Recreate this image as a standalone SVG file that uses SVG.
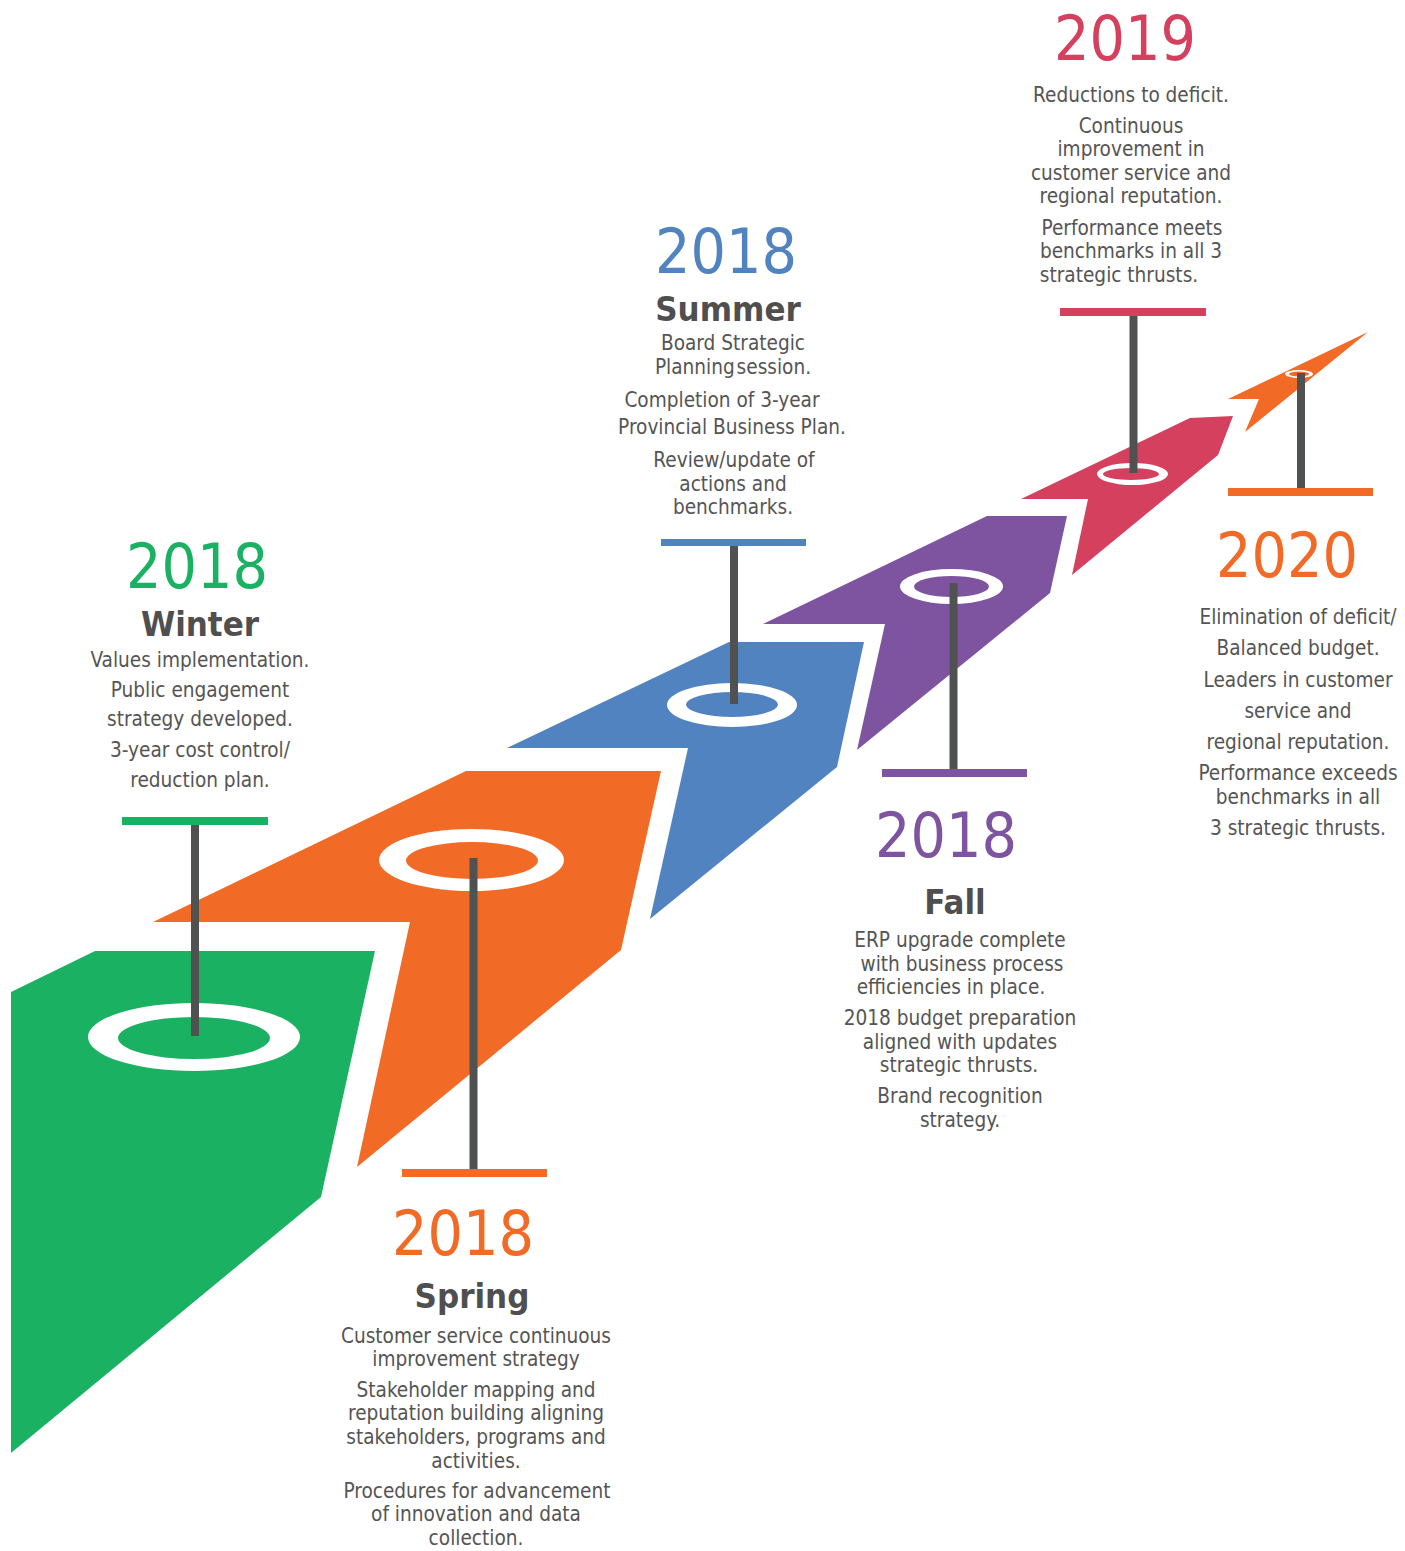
<svg xmlns="http://www.w3.org/2000/svg" width="1405" height="1551" viewBox="0 0 1405 1551">
  <style>
    text { font-family: "DejaVu Sans Condensed", "DejaVu Sans", sans-serif; font-stretch: condensed; text-anchor: middle; }
    .year { font-size: 62px; }
    .season { font-size: 34.5px; font-weight: bold; fill: #4f4f4f; }
    .body { font-size: 20.6px; fill: #555555; }
    .ring { fill: #ffffff; fill-rule: evenodd; }
    .stem { stroke: #505251; stroke-width: 8; }
    .green { fill: #1ab262; }
    .orange { fill: #f26b26; }
    .blue { fill: #5283c1; }
    .purple { fill: #7e53a0; }
    .red { fill: #d4405e; }
  </style>

  <!-- road segments with rings -->
  <g id="winter-2018">
    <polygon class="green" points="11,992 95,951 375,951 321,1197 11,1453"/>
    <path class="ring" d="M88,1037 a106,34 0 1,0 212,0 a106,34 0 1,0 -212,0 Z M118,1038 a76,21 0 1,0 152,0 a76,21 0 1,0 -152,0 Z"/>
    <rect class="green" x="122" y="817" width="146" height="8"/>
    <text class="year green" x="197" y="588">2018</text>
    <text class="season" x="200" y="636">Winter</text>
    <text class="body" x="200" y="667">Values implementation.</text>
    <text class="body" x="200" y="697">Public engagement</text>
    <text class="body" x="200" y="726">strategy developed.</text>
    <text class="body" x="200" y="757">3-year cost control/</text>
    <text class="body" x="200" y="787">reduction plan.</text>
  </g>

  <g id="spring-2018">
    <polygon class="orange" points="153,922 466,771 661,771 621,950 357,1167 410,922"/>
    <path class="ring" d="M379,860 a92.5,31 0 1,0 185,0 a92.5,31 0 1,0 -185,0 Z M406,860.5 a66,18.5 0 1,0 132,0 a66,18.5 0 1,0 -132,0 Z"/>
    <rect class="orange" x="402" y="1169" width="145" height="8"/>
    <text class="year orange" x="463" y="1255">2018</text>
    <text class="season" x="472" y="1308">Spring</text>
    <text class="body" x="476" y="1343">Customer service continuous</text>
    <text class="body" x="476" y="1366">improvement strategy</text>
    <text class="body" x="476" y="1397">Stakeholder mapping and</text>
    <text class="body" x="476" y="1420">reputation building aligning</text>
    <text class="body" x="476" y="1444">stakeholders, programs and</text>
    <text class="body" x="476" y="1468">activities.</text>
    <text class="body" x="477" y="1498">Procedures for advancement</text>
    <text class="body" x="476" y="1521">of innovation and data</text>
    <text class="body" x="476" y="1545">collection.</text>
  </g>

  <g id="summer-2018">
    <polygon class="blue" points="507,748 729,642 864,642 837,767 650,919 688,748"/>
    <path class="ring" d="M667,705 a65,22 0 1,0 130,0 a65,22 0 1,0 -130,0 Z M686,704.5 a46,12.5 0 1,0 92,0 a46,12.5 0 1,0 -92,0 Z"/>
    <rect class="blue" x="661" y="539" width="145" height="7"/>
    <text class="year blue" x="726" y="273">2018</text>
    <text class="season" x="728" y="321">Summer</text>
    <text class="body" x="733" y="350">Board Strategic</text>
    <text class="body" x="733" y="374" word-spacing="-4">Planning session.</text>
    <text class="body" x="722" y="407">Completion of 3-year</text>
    <text class="body" x="732" y="434">Provincial Business Plan.</text>
    <text class="body" x="734" y="467">Review/update of</text>
    <text class="body" x="733" y="491">actions and</text>
    <text class="body" x="733" y="514">benchmarks.</text>
  </g>

  <g id="fall-2018">
    <polygon class="purple" points="763,624 987,516 1067,516 1050,593 857,750 885,624"/>
    <path class="ring" d="M900,586.5 a51.5,17.5 0 1,0 103,0 a51.5,17.5 0 1,0 -103,0 Z M914,586.5 a37.5,10.5 0 1,0 75,0 a37.5,10.5 0 1,0 -75,0 Z"/>
    <rect class="purple" x="882" y="769" width="145" height="8"/>
    <text class="year purple" x="946" y="857">2018</text>
    <text class="season" x="955" y="914">Fall</text>
    <text class="body" x="960" y="947">ERP upgrade complete</text>
    <text class="body" x="962" y="971">with business process</text>
    <text class="body" x="951" y="994">efficiencies in place.</text>
    <text class="body" x="960" y="1025">2018 budget preparation</text>
    <text class="body" x="960" y="1049">aligned with updates</text>
    <text class="body" x="959" y="1072">strategic thrusts.</text>
    <text class="body" x="960" y="1103">Brand recognition</text>
    <text class="body" x="960" y="1127">strategy.</text>
  </g>

  <g id="year-2019">
    <polygon class="red" points="1021,499 1190,418 1233,416 1218,455 1072,575 1088,499"/>
    <path class="ring" d="M1097,474 a35.5,11 0 1,0 71,0 a35.5,11 0 1,0 -71,0 Z M1103,474 a28,6 0 1,0 56,0 a28,6 0 1,0 -56,0 Z"/>
    <rect class="red" x="1060" y="308" width="146" height="8"/>
    <text class="year red" x="1125" y="60">2019</text>
    <text class="body" x="1131" y="102">Reductions to deficit.</text>
    <text class="body" x="1131" y="133">Continuous</text>
    <text class="body" x="1131" y="156">improvement in</text>
    <text class="body" x="1131" y="180">customer service and</text>
    <text class="body" x="1131" y="203">regional reputation.</text>
    <text class="body" x="1132" y="235">Performance meets</text>
    <text class="body" x="1131" y="258">benchmarks in all 3</text>
    <text class="body" x="1119" y="282">strategic thrusts.</text>
  </g>

  <g id="year-2020">
    <polygon class="orange" points="1228,399 1368,332 1245,432 1259,399"/>
    <path class="ring" d="M1285,374 a14,4 0 1,0 28,0 a14,4 0 1,0 -28,0 Z M1289,374 a10,2.5 0 1,0 20,0 a10,2.5 0 1,0 -20,0 Z"/>
    <rect class="orange" x="1228" y="488" width="145" height="8"/>
    <text class="year orange" x="1287" y="577">2020</text>
    <text class="body" x="1298" y="624">Elimination of deficit/</text>
    <text class="body" x="1298" y="655">Balanced budget.</text>
    <text class="body" x="1298" y="687">Leaders in customer</text>
    <text class="body" x="1298" y="718">service and</text>
    <text class="body" x="1298" y="749">regional reputation.</text>
    <text class="body" x="1298" y="780">Performance exceeds</text>
    <text class="body" x="1298" y="804">benchmarks in all</text>
    <text class="body" x="1298" y="835">3 strategic thrusts.</text>
  </g>

  <!-- posts linking each label bar to its ring -->
  <g id="connectors">
    <line class="stem" x1="195" y1="825" x2="195" y2="1036"/>
    <line class="stem" x1="473.5" y1="858" x2="473.5" y2="1169"/>
    <line class="stem" x1="734" y1="546" x2="734" y2="704"/>
    <line class="stem" x1="953.5" y1="583" x2="953.5" y2="769"/>
    <line class="stem" x1="1133.5" y1="316" x2="1133.5" y2="473"/>
    <line class="stem" x1="1301" y1="373" x2="1301" y2="488"/>
  </g>
</svg>
